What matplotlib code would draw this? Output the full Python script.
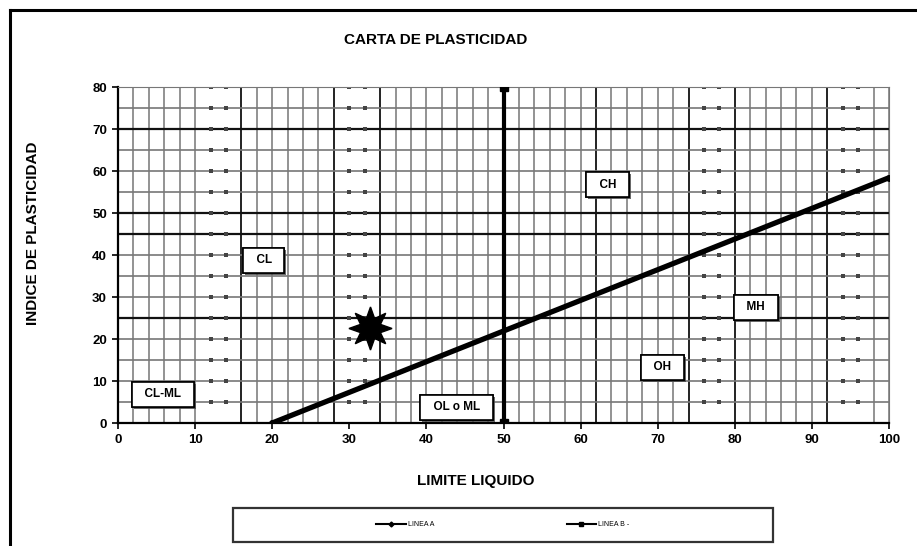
import matplotlib.pyplot as plt
import matplotlib.patheffects as pe
from matplotlib.lines import Line2D
from matplotlib.patches import Rectangle

# datos de la carta
linea_a_x = [20, 100]
linea_a_y = [0, 58.4]
linea_b_x = [50, 50]
linea_b_y = [0, 80]
muestra_x = [32.7]
muestra_y = [22.6]

zonas = ['CL-ML', 'CL', 'OL o ML', 'OH', 'MH', 'CH']
zona_x = [5.8, 18.9, 43.9, 70.6, 82.7, 63.5]
zona_y = [6.9, 38.7, 3.8, 13.3, 27.5, 56.7]

x_ticks = list(range(0, 101, 10))
y_ticks = list(range(0, 81, 10))

# rejilla (como en la hoja escaneada)
huecos_x = [12, 14, 30, 32, 76, 78, 94, 96]
oscuras_x = [16, 28, 34, 62, 74, 80, 92]
oscuras_y = [25, 45, 50, 70]

plt.rcParams['font.family'] = ['Liberation Sans Narrow', 'Liberation Sans', 'DejaVu Sans']

fig = plt.figure(figsize=(9.17, 5.46), dpi=100)
ax = fig.add_axes([118/917, 123/546, 771/917, 336/546])

for v in range(2, 101, 2):
    if v in huecos_x:
        continue
    if v in oscuras_x:
        ax.axvline(v, color='#222222', lw=1.4, zorder=1)
    else:
        ax.axvline(v, color='#8a8a8a', lw=1.3, zorder=1)
for v in range(5, 81, 5):
    if v in oscuras_y:
        ax.axhline(v, color='#111111', lw=1.6, zorder=1)
    else:
        ax.axhline(v, color='#777777', lw=1.2, zorder=1)

# puntos en los huecos de la rejilla
for hx in huecos_x:
    ax.scatter([hx] * 16, list(range(5, 81, 5)), s=5, marker='s', color='#444444',
               linewidths=0, zorder=2)

la, = ax.plot(linea_a_x, linea_a_y, color='black', lw=3.8, marker='o', markersize=4,
              solid_capstyle='round', zorder=4)
lb, = ax.plot(linea_b_x, linea_b_y, color='black', lw=3, marker='s', markersize=6, zorder=4)
ax.plot(muestra_x, muestra_y, linestyle='', marker=(8, 1, 0), markersize=31,
        color='black', zorder=5)

for nombre, zx, zy in zip(zonas, zona_x, zona_y):
    t = ax.text(zx, zy, '  ' + nombre + '  ', ha='center', va='center', fontsize=8.5,
                fontweight='bold', zorder=6,
                bbox=dict(boxstyle='square,pad=0.55', fc='white', ec='black', lw=1.2))
    t.get_bbox_patch().set_path_effects([
        pe.withSimplePatchShadow(offset=(1.5, -1.5), shadow_rgbFace='#444444', alpha=0.8),
        pe.Normal()])

ax.set_xlim(0, 100)
ax.set_ylim(0, 80)
ax.set_xticks(x_ticks)
ax.set_yticks(y_ticks)
ax.tick_params(direction='out', length=4, width=1.2, labelsize=9.5, pad=4)
for lbl in ax.get_xticklabels() + ax.get_yticklabels():
    lbl.set_fontweight('bold')
ax.spines['left'].set_linewidth(1.6)
ax.spines['bottom'].set_linewidth(1.6)
ax.spines['top'].set_color('#777777')
ax.spines['right'].set_color('#777777')

fig.text(436/917, 1 - 40/546, 'CARTA DE PLASTICIDAD', ha='center', va='center',
         fontsize=11, fontweight='bold')
fig.text(476/917, 1 - 481/546, 'LIMITE LIQUIDO', ha='center', va='center',
         fontsize=11, fontweight='bold')
fig.text(33/917, 1 - 233/546, 'INDICE DE PLASTICIDAD', ha='center', va='center',
         rotation=90, fontsize=11, fontweight='bold')

# marco exterior
fig.add_artist(Line2D([10/917, 10/917], [0, 1 - 10/546], color='black', lw=2.2))
fig.add_artist(Line2D([10/917, 1], [1 - 10/546, 1 - 10/546], color='black', lw=2.2))

# caja de leyenda
fig.add_artist(Rectangle((233/917, 1 - 542/546), 540/917, 34/546, fill=False,
                         ec='#333333', lw=1.6))
fig.legend([Line2D([], [], color='black', lw=1.5, marker='D', markersize=2.5),
            Line2D([], [], color='black', lw=1.5, marker='s', markersize=3)],
           ['LINEA A', 'LINEA B -'], loc='center', ncol=2, frameon=False,
           bbox_to_anchor=(503/917, 1 - 525/546), fontsize=5, handlelength=4.3,
           handletextpad=0.3, columnspacing=19)

plt.savefig('out.png', dpi=100)
